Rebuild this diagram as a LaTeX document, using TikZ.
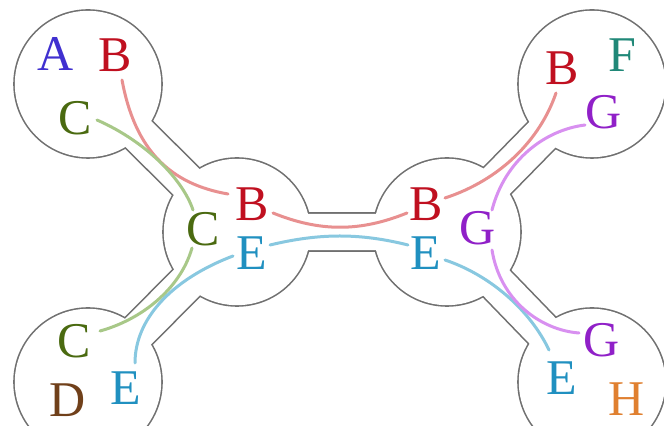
\documentclass[tikz,border=0pt]{standalone}
\usepackage{fontspec}
\setmainfont{Liberation Serif}
\definecolor{cA}{HTML}{4030D0}
\definecolor{cB}{HTML}{C01020}
\definecolor{cC}{HTML}{4A6A10}
\definecolor{cD}{HTML}{70401A}
\definecolor{cE}{HTML}{2090C0}
\definecolor{cF}{HTML}{208878}
\definecolor{cG}{HTML}{9020C8}
\definecolor{cH}{HTML}{E08030}
\definecolor{lB}{HTML}{E89090}
\definecolor{lC}{HTML}{A8C888}
\definecolor{lE}{HTML}{88C8E0}
\definecolor{lG}{HTML}{D890F0}
\definecolor{outl}{HTML}{707070}
\begin{document}
\begin{tikzpicture}[x=0.5pt,y=-0.5pt,
  lab/.style={inner sep=1pt, font=\fontsize{25}{30}\selectfont},
  link/.style={line width=1.5pt, line cap=round}]
\useasboundingbox (0,0) rectangle (664,426);
\clip (0,0) rectangle (664,426);
% bag centres
\coordinate (c1) at (88,84);
\coordinate (c2) at (237,232);
\coordinate (c3) at (447,232);
\coordinate (c4) at (592,84);
\coordinate (c5) at (88,382);
\coordinate (c6) at (592,382);
% outline of the union of bags and tubes
\foreach \c in {c1,c2,c3,c4,c5,c6} \fill[outl] (\c) circle[radius=37.4pt];
\draw[outl, line width=19.8pt] (c1)--(c2) (c2)--(c3) (c3)--(c4) (c2)--(c5) (c3)--(c6);
\foreach \c in {c1,c2,c3,c4,c5,c6} \fill[white] (\c) circle[radius=36.6pt];
\draw[white, line width=18.2pt] (c1)--(c2) (c2)--(c3) (c3)--(c4) (c2)--(c5) (c3)--(c6);
% labels
\node[lab, text=cA] (tlA) at (56,54) {A};
\node[lab, text=cB] (tlB) at (115,55) {B};
\node[lab, text=cC] (tlC) at (75,118) {C};
\node[lab, text=cB] (mlB) at (252,204) {B};
\node[lab, text=cC] (mlC) at (203,229) {C};
\node[lab, text=cE] (mlE) at (252,253) {E};
\node[lab, text=cB] (mrB) at (426,204) {B};
\node[lab, text=cG] (mrG) at (478,228) {G};
\node[lab, text=cE] (mrE) at (426,253) {E};
\node[lab, text=cB] (trB) at (562,68) {B};
\node[lab, text=cF] (trF) at (622,55) {F};
\node[lab, text=cG] (trG) at (604,112) {G};
\node[lab, text=cC] (blC) at (74,341) {C};
\node[lab, text=cD] (blD) at (68,400) {D};
\node[lab, text=cE] (blE) at (126,388) {E};
\node[lab, text=cG] (brG) at (602,340) {G};
\node[lab, text=cE] (brE) at (562,378) {E};
\node[lab, text=cH] (brH) at (627,399) {H};
% links
\draw[link, lB] ([shift={(7,25)}]tlB.center) .. controls +(13,70) and +(-58,-10) .. ([shift={(-24,-10)}]mlB.center);
\draw[link, lB] ([shift={(21,9)}]mlB.center) .. controls +(47,19) and +(-47,19) .. ([shift={(-19,9)}]mrB.center);
\draw[link, lB] ([shift={(19,-6)}]mrB.center) .. controls +(55,-18) and +(-16,47) .. ([shift={(-6,25)}]trB.center);
\draw[link, lC] ([shift={(22,2)}]tlC.center) .. controls +(50,22) and +(-10,-30) .. ([shift={(-10,-19)}]mlC.center);
\draw[link, lC] ([shift={(-11,19)}]mlC.center) .. controls +(-12,42) and +(40,-11) .. ([shift={(26,-10)}]blC.center);
\draw[link, lE] ([shift={(-19,3)}]mlE.center) .. controls +(-63,24) and +(0,-43) .. ([shift={(9,-25)}]blE.center);
\draw[link, lE] ([shift={(18,-8)}]mlE.center) .. controls +(50,-12) and +(-48,-12) .. ([shift={(-18,-8)}]mrE.center);
\draw[link, lE] ([shift={(19,7)}]mrE.center) .. controls +(45,15) and +(-19,-40) .. ([shift={(-13,-28)}]brE.center);
\draw[link, lG] ([shift={(14,-18)}]mrG.center) .. controls +(13,-50) and +(-40,5) .. ([shift={(-19,13)}]trG.center);
\draw[link, lG] ([shift={(14,22)}]mrG.center) .. controls +(8,50) and +(-39,-3) .. ([shift={(-23,-7)}]brG.center);
\end{tikzpicture}
\end{document}
